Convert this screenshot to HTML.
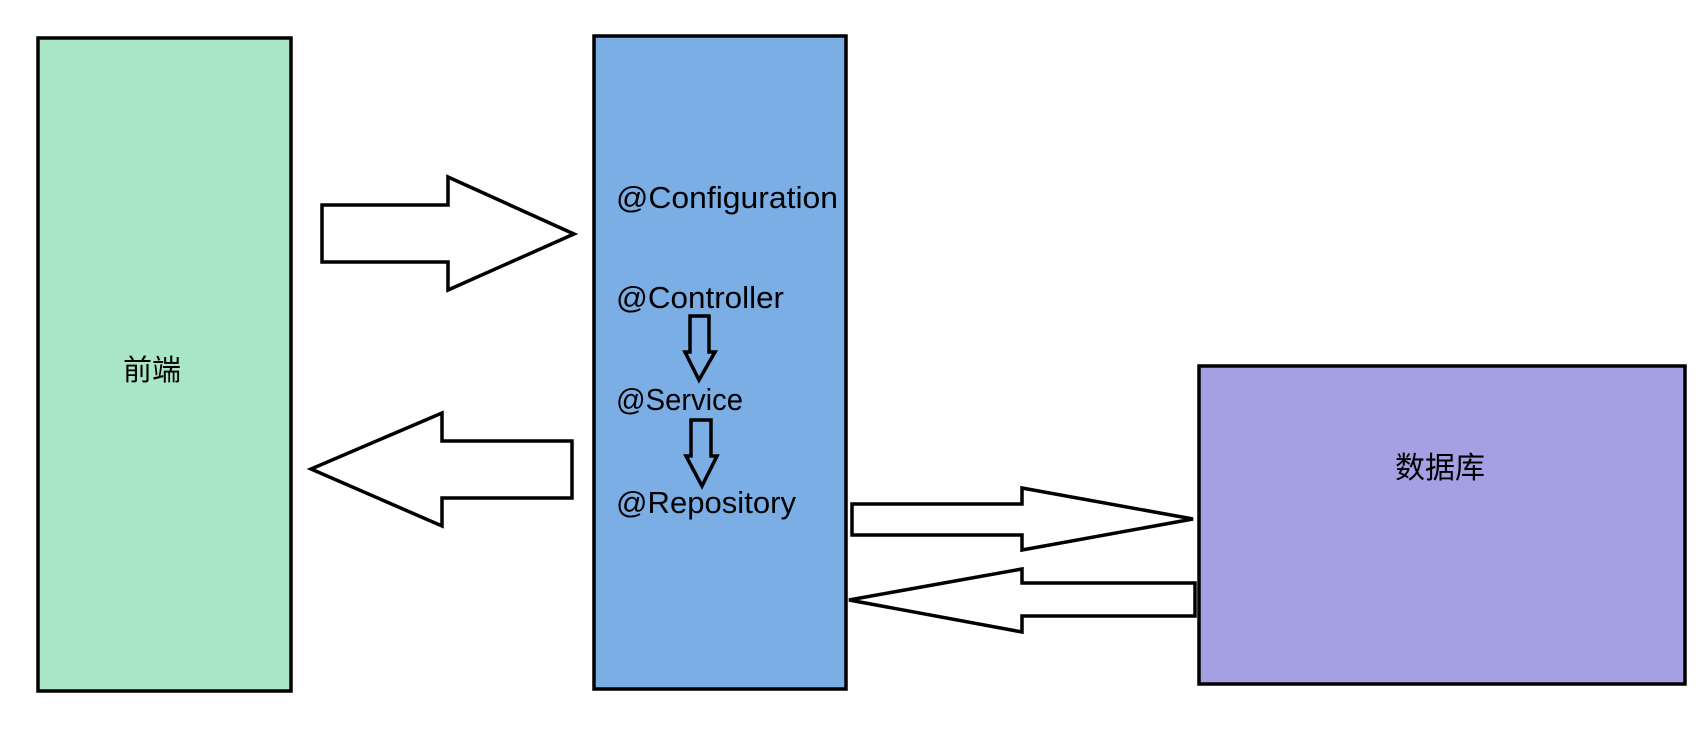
<!DOCTYPE html>
<html><head><meta charset="utf-8"><style>
html,body{margin:0;padding:0;background:#fff;width:1707px;height:733px;overflow:hidden}
</style></head><body>
<svg width="1707" height="733" xmlns="http://www.w3.org/2000/svg" font-family="Liberation Sans, Noto Sans CJK SC, sans-serif">
<rect x="38" y="38" width="253" height="653" fill="#a9e6c5" stroke="#000" stroke-width="3.5"/>
<rect x="594" y="36" width="252" height="653" fill="#7aaee5" stroke="#000" stroke-width="3.5"/>
<rect x="1199" y="366" width="486" height="318" fill="#a5a0e4" stroke="#000" stroke-width="3.5"/>
<g fill="#fff" stroke="#000" stroke-width="3.5" stroke-linejoin="miter">
<polygon points="322,205 448,205 448,177 574,234 448,290 448,262 322,262"/>
<polygon points="572,441 442,441 442,413 311,469 442,526 442,498 572,498"/>
<polygon points="852,504 1022,504 1022,488 1193,519 1022,550 1022,535 852,535"/>
<polygon points="1195,583 1022,583 1022,569 849,600 1022,632 1022,616 1195,616"/>
</g>
<g fill="none" stroke="#000" stroke-width="3.5">
<polygon points="690,316 709,316 709,352 715,352 699,380 685,352 690,352"/>
<polygon points="691,420 711,420 711,456 717,456 702,486 686,456 691,456"/>
</g>
<g font-size="31" fill="#000">
<text x="616" y="208" textLength="222" lengthAdjust="spacingAndGlyphs">@Configuration</text>
<text x="616" y="308" textLength="168" lengthAdjust="spacingAndGlyphs">@Controller</text>
<text x="616" y="410" textLength="127" lengthAdjust="spacingAndGlyphs">@Service</text>
<text x="616" y="513" textLength="180" lengthAdjust="spacingAndGlyphs">@Repository</text>
</g>
<text x="123" y="380" font-size="29">前端</text>
<text x="1395" y="478" font-size="30">数据库</text>
</svg>
</body></html>
